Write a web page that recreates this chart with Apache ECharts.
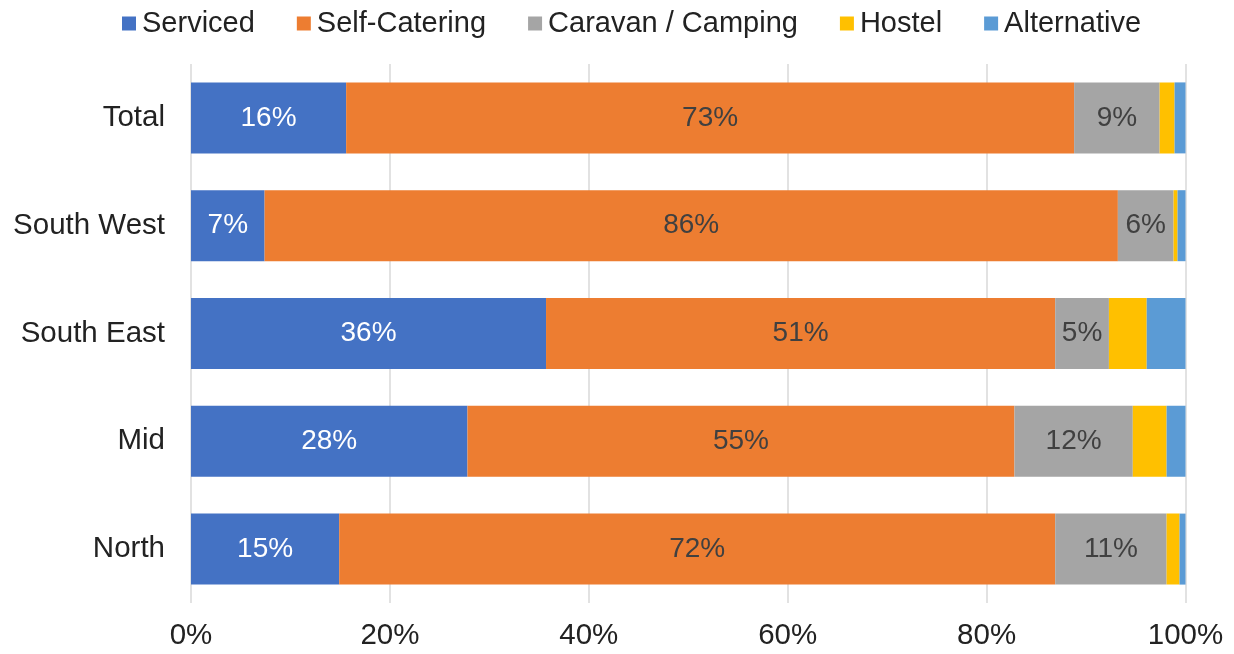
<!DOCTYPE html>
<html>
<head>
<meta charset="utf-8">
<script src="https://cdn.jsdelivr.net/npm/echarts@6/dist/echarts.min.js"></script>
<style>html,body{margin:0;padding:0;background:#fff}#c{width:1234px;height:654px}</style>
</head>
<body>
<div id="c"></div>
<script>
const categories = ['Total', 'South West', 'South East', 'Mid', 'North'];
const serviced = [15.6, 7.4, 35.7, 27.8, 14.9];
const selfCatering = [73.2, 85.8, 51.2, 55.0, 72.0];
const caravan = [8.6, 5.6, 5.4, 11.9, 11.2];
const hostel = [1.5, 0.4, 3.8, 3.4, 1.3];
const alternative = [1.1, 0.8, 3.9, 1.9, 0.6];
const xTicks = [0, 20, 40, 60, 80, 100];

const font = 'Liberation Sans, Arial, sans-serif';
function mk(name, data, color, labelColor) {
  return {
    name, type: 'bar', stack: 'all', data, barWidth: 71,
    itemStyle: { color },
    label: {
      show: true, position: 'inside', color: labelColor, fontSize: 28, fontFamily: font,
      formatter: p => p.value >= 5 ? Math.round(p.value) + '%' : ''
    }
  };
}
const chart = echarts.init(document.getElementById('c'), null, { renderer: 'canvas' });
chart.setOption({
  animation: false,
  textStyle: { fontFamily: font },
  legend: {
    top: 4, left: 117, itemWidth: 14, itemHeight: 14, itemGap: 42,
    icon: 'rect',
    textStyle: { fontSize: 29, color: '#222', fontFamily: font, padding: [0, 0, 0, 1] }
  },
  grid: { left: 191, right: 48.5, top: 64, bottom: 51, containLabel: false },
  xAxis: {
    type: 'value', min: xTicks[0], max: xTicks[xTicks.length - 1], interval: 20,
    axisLabel: { formatter: '{value}%', fontSize: 29.5, color: '#222', margin: 18, fontFamily: font },
    axisLine: { show: false }, axisTick: { show: false },
    splitLine: { show: true, lineStyle: { color: '#d9d9d9', width: 1.5 } }
  },
  yAxis: {
    type: 'category', data: categories, inverse: true,
    axisLabel: { fontSize: 29.5, color: '#222', margin: 26, fontFamily: font },
    axisLine: { show: false }, axisTick: { show: false }
  },
  series: [
    mk('Serviced', serviced, '#4472C4', '#ffffff'),
    mk('Self-Catering', selfCatering, '#ED7D31', '#404040'),
    mk('Caravan / Camping', caravan, '#A5A5A5', '#404040'),
    mk('Hostel', hostel, '#FFC000', '#404040'),
    mk('Alternative', alternative, '#5B9BD5', '#404040')
  ]
});
</script>
</body>
</html>
